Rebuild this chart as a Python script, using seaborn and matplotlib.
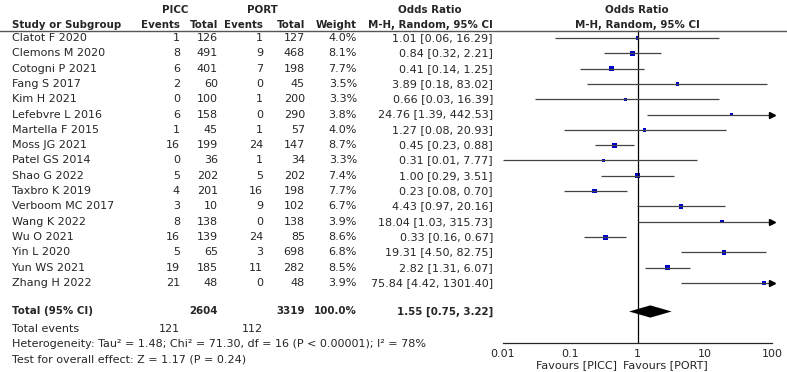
import numpy as np
import pandas as pd
import seaborn as sns
import matplotlib
matplotlib.use("Agg")
import matplotlib.pyplot as plt
import matplotlib.transforms as mtransforms

studies = ["Clatot F 2020", "Clemons M 2020", "Cotogni P 2021", "Fang S 2017",
           "Kim H 2021", "Lefebvre L 2016", "Martella F 2015", "Moss JG 2021",
           "Patel GS 2014", "Shao G 2022", "Taxbro K 2019", "Verboom MC 2017",
           "Wang K 2022", "Wu O 2021", "Yin L 2020", "Yun WS 2021", "Zhang H 2022"]
picc_events = [1, 8, 6, 2, 0, 6, 1, 16, 0, 5, 4, 3, 8, 16, 5, 19, 21]
picc_total = [126, 491, 401, 60, 100, 158, 45, 199, 36, 202, 201, 10, 138, 139, 65, 185, 48]
port_events = [1, 9, 7, 0, 1, 0, 1, 24, 1, 5, 16, 9, 0, 24, 3, 11, 0]
port_total = [127, 468, 198, 45, 200, 290, 57, 147, 34, 202, 198, 102, 138, 85, 698, 282, 48]
weight = [4.0, 8.1, 7.7, 3.5, 3.3, 3.8, 4.0, 8.7, 3.3, 7.4, 7.7, 6.7, 3.9, 8.6, 6.8, 8.5, 3.9]
odds = [1.01, 0.84, 0.41, 3.89, 0.66, 24.76, 1.27, 0.45, 0.31, 1.00, 0.23, 4.43,
        18.04, 0.33, 19.31, 2.82, 75.84]
ci_low = [0.06, 0.32, 0.14, 0.18, 0.03, 1.39, 0.08, 0.23, 0.01, 0.29, 0.08, 0.97,
          1.03, 0.16, 4.50, 1.31, 4.42]
ci_high = [16.29, 2.21, 1.25, 83.02, 16.39, 442.53, 20.93, 0.88, 7.77, 3.51, 0.70,
           20.16, 315.73, 0.67, 82.75, 6.07, 1301.40]

total_picc, total_port = 2604, 3319
events_picc, events_port = 121, 112
pooled = (1.55, 0.75, 3.22)
heterogeneity = "Heterogeneity: Tau² = 1.48; Chi² = 71.30, df = 16 (P < 0.00001); I² = 78%"
overall = "Test for overall effect: Z = 1.17 (P = 0.24)"
tick_vals = [0.01, 0.1, 1, 10, 100]
tick_labels = ["0.01", "0.1", "1", "10", "100"]

df = pd.DataFrame({"study": studies, "or": odds, "lo": ci_low, "hi": ci_high,
                   "w": weight})
df["row"] = np.arange(len(df))

sns.set_style("white")
plt.rcParams["font.family"] = ["DejaVu Sans"]
FS = 8
FSB = 7.4

W, H = 787, 372
fig = plt.figure(figsize=(W / 100, H / 100), dpi=100)

# pixel geometry of the forest panel
x0, x1 = 503, 772
row0, step = 38, 15.31


def row_of(ypx):
    return (ypx - row0) / step


ax = fig.add_axes([x0 / W, (H - 343) / H, (x1 - x0) / W, 343 / H])
ax.set_xscale("log")
ax.set_xlim(0.01, 100)
ax.set_ylim(row_of(343), row_of(0))
for s in ["top", "left", "right"]:
    ax.spines[s].set_visible(False)
ax.spines["bottom"].set_linewidth(0.9)
ax.set_xticks(tick_vals)
ax.set_xticklabels(tick_labels, fontsize=FS)
ax.minorticks_off()
ax.tick_params(axis="x", direction="inout", length=6, width=0.9, pad=1)
ax.set_yticks([])

# vertical line of no effect
ax.vlines(1, row_of(30), row_of(343), color="black", lw=0.9)

# confidence intervals
hi_clip = df["hi"].clip(upper=100)
ax.hlines(df["row"], df["lo"], hi_clip, color="#444444", lw=0.9)
arrow = df[df["hi"] > 100]
ax.plot([100] * len(arrow), arrow["row"], marker=">", ls="none", ms=4,
        color="black", clip_on=False)

# study squares
sns.scatterplot(data=df, x="or", y="row", size="w", sizes=(5, 13), marker="s",
                color="#0000CC", edgecolor="none", legend=False, ax=ax)
ax.set_xlabel("")
ax.set_ylabel("")

# pooled diamond
tr = row_of(311.5)
est, lo, hi = pooled
ax.fill([lo, est, hi, est], [tr, tr - 0.4, tr, tr + 0.4], color="black", lw=0)

# table text
bt = mtransforms.blended_transform_factory(fig.transFigure, ax.transData)


def put(xpx, row, s, ha="right", bold=False):
    fig.text(xpx / W, row, s, transform=bt, ha=ha, va="center",
             fontsize=FSB if bold else FS,
             fontweight="bold" if bold else "normal")


hr1, hr2 = row_of(10), row_of(24.5)
put(175, hr1, "PICC", ha="center", bold=True)
put(262, hr1, "PORT", ha="center", bold=True)
put(430, hr1, "Odds Ratio", ha="center", bold=True)
put(637, hr1, "Odds Ratio", ha="center", bold=True)
put(12, hr2, "Study or Subgroup", ha="left", bold=True)
put(180, hr2, "Events", bold=True)
put(218, hr2, "Total", bold=True)
put(263, hr2, "Events", bold=True)
put(305, hr2, "Total", bold=True)
put(357, hr2, "Weight", bold=True)
put(430, hr2, "M-H, Random, 95% CI", ha="center", bold=True)
put(637, hr2, "M-H, Random, 95% CI", ha="center", bold=True)

line = plt.Line2D([0, 1], [row_of(30.5)] * 2, transform=bt, color="#555555", lw=1)
fig.add_artist(line)

for i, r in df.iterrows():
    put(12, r["row"], r["study"], ha="left")
    put(180, r["row"], str(picc_events[i]))
    put(218, r["row"], str(picc_total[i]))
    put(263, r["row"], str(port_events[i]))
    put(305, r["row"], str(port_total[i]))
    put(357, r["row"], f"{weight[i]:.1f}%")
    put(493, r["row"], f"{odds[i]:.2f} [{ci_low[i]:.2f}, {ci_high[i]:.2f}]")

put(12, tr, "Total (95% CI)", ha="left", bold=True)
put(218, tr, str(total_picc), bold=True)
put(305, tr, str(total_port), bold=True)
put(357, tr, "100.0%", bold=True)
put(493, tr, f"{est:.2f} [{lo:.2f}, {hi:.2f}]", bold=True)

put(12, row_of(328.5), "Total events", ha="left")
put(180, row_of(328.5), str(events_picc))
put(263, row_of(328.5), str(events_port))
put(12, row_of(344), heterogeneity, ha="left")
put(12, row_of(359), overall, ha="left")

put(617, row_of(365.5), "Favours [PICC]")
put(623, row_of(365.5), "Favours [PORT]", ha="left")

fig.savefig("out.png", dpi=100)
